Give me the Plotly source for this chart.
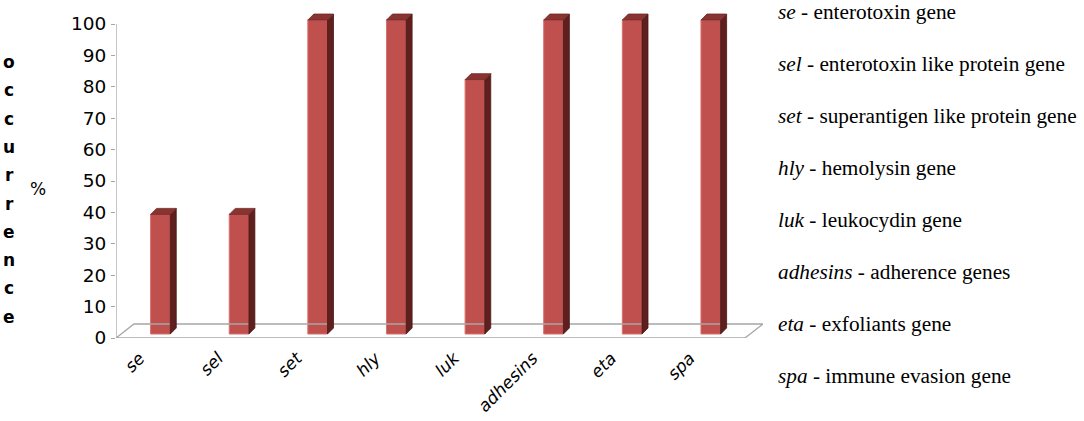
import plotly.graph_objects as go

categories = ["se", "sel", "set", "hly", "luk", "adhesins", "eta", "spa"]
occurrence = [38.1, 38.1, 100, 100, 81, 100, 100, 100]
y_ticks = [0, 10, 20, 30, 40, 50, 60, 70, 80, 90, 100]
legend_terms = ["se", "sel", "set", "hly", "luk", "adhesins", "eta", "spa"]
legend_desc = ["enterotoxin gene", "enterotoxin like protein gene",
               "superantigen like protein gene", "hemolysin gene",
               "leukocydin gene", "adherence genes", "exfoliants gene",
               "immune evasion gene"]

# styling / 3-D projection parameters (not data)
FRONT = "#C0504D"
SIDE = "#5E1F1D"
TOP = "#8A3431"
GRID = "#A6A6A6"
bar_shift = 0.065      # bar centre shift (category units)
label_shift = -0.2     # tick label anchor shift
bar_w = 0.25
bar_base = 1.27        # bars stand slightly behind the floor front edge
dx, dy = 0.0763, 1.91  # bar depth offset
fdx, fdy = 0.229, 4.46 # floor depth offset
n = len(categories)
Y_MAX = 104.46

W, H = 1084, 421
L, R_EDGE, T, B_EDGE = 116, 763, 10, 338
plot_w = R_EDGE - L
plot_h = B_EDGE - T

xs = [i + bar_shift for i in range(n)]

fig = go.Figure()

# floor outline
fx = [-0.5, -0.5 + fdx, n - 0.5 + fdx, n - 0.5, -0.5]
fy = [0, fdy, fdy, 0, 0]
fig.add_trace(go.Scatter(x=fx, y=fy, mode="lines", line=dict(color=GRID, width=1.3),
                         hoverinfo="skip", cliponaxis=False))

# front faces
fig.add_trace(go.Bar(x=xs, y=occurrence, base=bar_base, width=bar_w,
                     marker=dict(color=FRONT, line=dict(color="#D9706C", width=1)),
                     cliponaxis=False))

# side and top faces
sx, sy, tx, ty = [], [], [], []
for x, v in zip(xs, occurrence):
    r = x + bar_w / 2
    l = x - bar_w / 2
    top = bar_base + v
    sx += [r, r + dx, r + dx, r, r, None]
    sy += [bar_base, bar_base + dy, top + dy, top, bar_base, None]
    tx += [l, l + dx, r + dx, r, l, None]
    ty += [top, top + dy, top + dy, top, top, None]
fig.add_trace(go.Scatter(x=sx, y=sy, mode="lines", fill="toself", fillcolor=SIDE,
                         line=dict(color="#4A1817", width=0.8), hoverinfo="skip",
                         cliponaxis=False))
fig.add_trace(go.Scatter(x=tx, y=ty, mode="lines", fill="toself", fillcolor=TOP,
                         line=dict(color="#6E2826", width=0.8), hoverinfo="skip",
                         cliponaxis=False))

# y axis line (0..100 only)
fig.add_shape(type="line", xref="x", yref="y", x0=-0.5, x1=-0.5, y0=0, y1=100,
              line=dict(color=GRID, width=1.3))


def px_x(p):
    return (p - L) / plot_w


def px_y(p):
    return (B_EDGE - p) / plot_h


annotations = []
title = "occurrence"
for k, ch in enumerate(title):
    ypx = 62 + 28.3 * k
    annotations.append(dict(text="<b>%s</b>" % ch, x=px_x(9), xref="paper",
                            xanchor="center", y=px_y(ypx), yref="paper",
                            yanchor="middle", showarrow=False,
                            font=dict(family="DejaVu Sans", size=17, color="#000")))
annotations.append(dict(text="%", x=px_x(38), xref="paper", xanchor="center",
                        y=px_y(189), yref="paper", yanchor="middle", showarrow=False,
                        font=dict(family="DejaVu Sans", size=17, color="#000")))

for k, (t, d) in enumerate(zip(legend_terms, legend_desc)):
    ypx = 12 + 52 * k
    annotations.append(dict(text="<i>%s</i> - %s" % (t, d),
                            x=px_x(776), xref="paper", xanchor="left",
                            y=px_y(ypx), yref="paper", yanchor="middle",
                            showarrow=False,
                            font=dict(family="Liberation Serif", size=21.3, color="#000")))

fig.update_layout(
    width=W, height=H,
    margin=dict(l=L, r=W - R_EDGE, t=T, b=H - B_EDGE, autoexpand=False),
    paper_bgcolor="white", plot_bgcolor="white",
    showlegend=False,
    annotations=annotations,
    xaxis=dict(range=[-0.5, n - 0.5 + fdx], showgrid=False, zeroline=False,
               showline=False, automargin=False, tickmode="array",
               tickvals=[i + label_shift for i in range(n)],
               ticktext=["<i>%s</i>" % c for c in categories],
               tickangle=-45, ticks="", ticklabelstandoff=6,
               tickfont=dict(family="DejaVu Sans", size=17, color="#000")),
    yaxis=dict(range=[0, Y_MAX], showgrid=False, zeroline=False, showline=False,
               automargin=False, ticks="outside", ticklen=4, tickwidth=1.3,
               tickcolor=GRID, tickvals=y_ticks, ticklabelstandoff=1,
               tickfont=dict(family="DejaVu Sans", size=18.5, color="#000")),
)

fig.write_html("out.html",
               config={"displayModeBar": False},
               post_script="document.body.style.margin='0';"
                           "document.body.style.overflow='hidden';")
